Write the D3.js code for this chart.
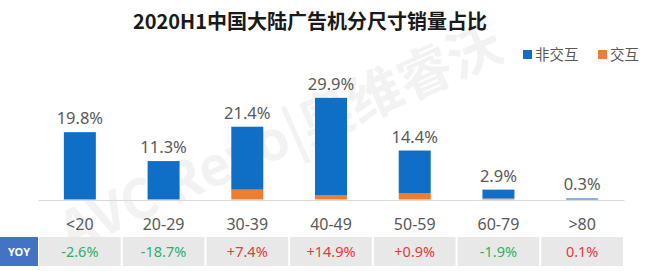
<!DOCTYPE html>
<html>
<head>
<meta charset="utf-8">
<script src="https://cdn.jsdelivr.net/npm/d3@7"></script>
<style>
  body { margin: 0; background: #fff; }
  svg { display: block; font-family: "Noto Sans", "Noto Sans CJK SC", sans-serif; }
</style>
</head>
<body>
<svg id="svg"></svg>
<script>
// sizes and share values
let categories = ['<20', '20-29', '30-39', '40-49', '50-59', '60-79', '>80'];
let totals = [19.8, 11.3, 21.4, 29.9, 14.4, 2.9, 0.3];
let interactive = [0, 0, 2.9, 1.2, 1.9, 0.3, 0];
let yoyLabels = ['-2.6%', '-18.7%', '+7.4%', '+14.9%', '+0.9%', '-1.9%', '0.1%'];
let yoyUp = [false, false, true, true, true, false, true];
let seriesNames = ['非交互', '交互'];

let width = 645, height = 271;
let blue = '#0F6FC6', orange = '#ED7D31';

let svg = d3.select('#svg').attr('width', width).attr('height', height);

let x = d3.scaleBand().domain(categories).range([38, 624])
    .paddingInner(0.618).paddingOuter(0.309);
let y = d3.scaleLinear().domain([0, 30]).range([199.5, 97.5]);

// watermark
svg.append('text')
    .attr('transform', 'translate(70,252) rotate(-24)')
    .attr('font-size', 54).attr('font-weight', 'bold')
    .attr('fill', '#8c8c8c').attr('opacity', 0.1)
    .attr('font-family', '"Noto Sans CJK SC", sans-serif')
    .text('AVC Revo|奥维睿沃');

// title
svg.append('text')
    .attr('x', 310).attr('y', 29)
    .attr('text-anchor', 'middle')
    .attr('font-size', 20).attr('font-weight', 'bold')
    .attr('fill', '#1a1a1a')
    .attr('font-family', '"Noto Sans CJK SC", sans-serif')
    .text('2020H1中国大陆广告机分尺寸销量占比');

// legend
let legend = svg.append('g').attr('font-family', '"Noto Sans CJK SC", sans-serif');
let legendX = [523, 598];
seriesNames.forEach(function(name, i) {
    legend.append('rect').attr('x', legendX[i]).attr('y', 50)
        .attr('width', 9).attr('height', 9)
        .attr('fill', i == 0 ? blue : orange);
    legend.append('text').attr('x', legendX[i] + 12).attr('y', 60)
        .attr('font-size', 14.5).attr('fill', '#595959')
        .text(name);
});

// stacked bars
let rows = categories.map(function(c, i) {
    return { cat: c, blue: totals[i] - interactive[i], orange: interactive[i], total: totals[i] };
});
let stack = d3.stack().keys(['orange', 'blue'])(rows);

svg.append('g').selectAll('g')
    .data(stack)
    .join('g')
    .attr('fill', function(d) { return d.key == 'blue' ? blue : orange; })
    .selectAll('rect')
    .data(function(d) { return d; })
    .join('rect')
    .attr('x', function(d) { return x(d.data.cat); })
    .attr('width', x.bandwidth())
    .attr('y', function(d) { return y(d[1]); })
    .attr('height', function(d) { return y(d[0]) - y(d[1]); });

// value labels
svg.append('g').selectAll('text')
    .data(rows)
    .join('text')
    .attr('x', function(d) { return x(d.cat) + x.bandwidth() / 2; })
    .attr('y', function(d) { return y(d.total) - 8; })
    .attr('text-anchor', 'middle')
    .attr('font-size', 16.5)
    .attr('fill', '#595959')
    .text(function(d) { return d.total.toFixed(1) + '%'; });

// x axis
let xAxis = svg.append('g')
    .attr('transform', 'translate(0,200)')
    .call(d3.axisBottom(x).tickSize(0).tickPadding(19));
xAxis.select('.domain').attr('stroke', '#d9d9d9');
xAxis.selectAll('text')
    .attr('font-size', 16).attr('fill', '#595959')
    .attr('font-family', '"Noto Sans", sans-serif');

// YOY row
let rowTop = 237, rowH = 29;
svg.append('rect').attr('x', 0).attr('y', rowTop)
    .attr('width', 38).attr('height', rowH).attr('fill', '#4472C4');
svg.append('text').attr('x', 19).attr('y', rowTop + 19)
    .attr('text-anchor', 'middle').attr('font-size', 11).attr('font-weight', 'bold')
    .attr('fill', '#fff').text('YOY');

let step = x.step();
svg.append('g').selectAll('rect')
    .data(categories)
    .join('rect')
    .attr('x', function(d) { return x(d) + x.bandwidth() / 2 - step / 2 + 1; })
    .attr('width', step - 2)
    .attr('y', rowTop).attr('height', rowH)
    .attr('fill', '#e8e8e8');

svg.append('g').selectAll('text')
    .data(categories)
    .join('text')
    .attr('x', function(d) { return x(d) + x.bandwidth() / 2; })
    .attr('y', rowTop + 20)
    .attr('text-anchor', 'middle')
    .attr('font-size', 14.5)
    .attr('fill', function(d, i) { return yoyUp[i] ? '#E5393C' : '#2FAE6A'; })
    .text(function(d, i) { return yoyLabels[i]; });
</script>
</body>
</html>
